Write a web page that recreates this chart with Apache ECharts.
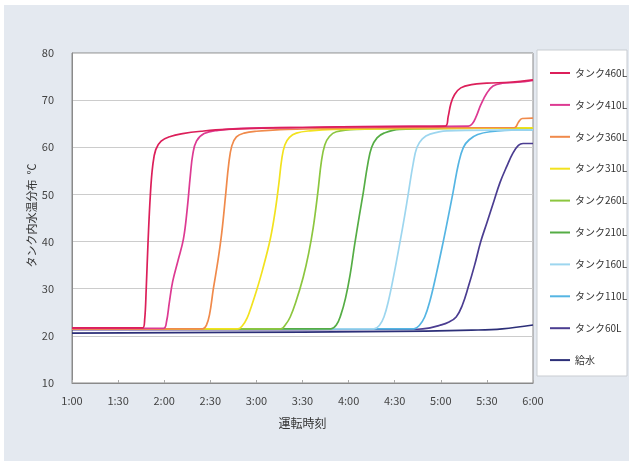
<!DOCTYPE html>
<html><head><meta charset="utf-8">
<script src="https://cdn.jsdelivr.net/npm/echarts@6/dist/echarts.min.js"></script>
<style>
html,body{margin:0;padding:0;background:#fff;}
#panel{position:absolute;left:4px;top:5px;width:625px;height:456px;background:#e4e9f0;}
#c{position:absolute;left:0;top:0;width:629px;height:461px;}
</style></head>
<body><div id="panel"></div><div id="c"></div>
<script>
// time in minutes after 1:00, value in °C
const names = ['タンク460L','タンク410L','タンク360L','タンク310L','タンク260L','タンク210L','タンク160L','タンク110L','タンク60L','給水'];
const tank460 = [[0,21.7],[46,21.7],[47.3,23.5],[48.3,30],[49.5,40],[51,50],[52.5,56],[54.5,59.5],[58,61.3],[64,62.3],[72,62.9],[84,63.4],[100,63.8],[150,64.2],[200,64.4],[243,64.5],[244.8,66.5],[246.5,69.2],[249,71.2],[253,72.6],[260,73.3],[270,73.6],[285,73.8],[300,74.3]];
const tank410 = [[0,21.6],[59.5,21.6],[61.5,23],[63.3,27],[65.5,31.5],[69,36],[72.5,40.5],[75,47],[77,54],[78.6,58.5],[81,61.3],[86,62.9],[95,63.6],[110,64],[150,64.2],[200,64.4],[258,64.5],[260.5,65],[263,66.5],[266,69],[270,71.5],[274,73],[280,73.6],[290,73.8],[300,74.2]];
const tank360 = [[0,21.5],[85,21.5],[87.5,22.3],[89.5,24.5],[92,30],[95,36],[97.5,42],[100,50],[102,56.5],[104,60.3],[107,62.2],[112,63],[120,63.4],[140,63.8],[200,64.1],[288,64.2],[290.5,65.3],[293,66.1],[300,66.2]];
const tank310 = [[0,21.5],[108,21.5],[111,22.2],[114,23.8],[117,26.5],[120,29.5],[124,34],[129,40.5],[132,46],[134.5,52],[136.5,57.5],[138.5,60.5],[141.5,62.1],[146,63],[155,63.5],[170,63.8],[300,64.1]];
const tank260 = [[0,21.5],[136,21.5],[139,22.4],[142,24],[145.5,27],[150.5,32.5],[154,37.5],[157,43],[160,50.5],[162.3,57],[164.5,60.5],[167.5,62.3],[172,63.3],[185,63.8],[300,64.1]];
const tank210 = [[0,21.5],[168.5,21.5],[172,22.3],[175,24.5],[178,28],[181,33],[184,39.5],[187,45.5],[189.6,50.5],[192.5,56.5],[195,60],[198.5,62],[203,63],[213,63.8],[300,64.1]];
const tank160 = [[0,21.5],[196.5,21.5],[200,22.2],[203,24],[206,27.5],[209.5,33],[213.5,40],[216.5,45.5],[219,50.5],[222,56.5],[224.5,60],[228,61.8],[233,62.8],[244,63.5],[300,63.7]];
const tank110 = [[0,21.5],[222.5,21.5],[226,22.2],[229.5,24],[233,27.5],[237,33],[241.6,40],[245,45.5],[248,50.5],[251.5,56.5],[254.7,60],[258.5,61.6],[264,62.7],[272,63.3],[290,63.7],[300,63.7]];
const tank60 = [[0,21.3],[225,21.4],[233,21.7],[239,22.2],[245,22.9],[250,24],[254,26.5],[258,30.5],[262,35],[266,40],[270,44],[274,48],[278.5,52.5],[283,56],[287,58.8],[290.5,60.4],[293.5,60.8],[300,60.8]];
const feed = [[0,20.6],[150,20.8],[230,21.0],[260,21.2],[280,21.5],[300,22.3]];
const seriesData = [tank460,tank410,tank360,tank310,tank260,tank210,tank160,tank110,tank60,feed];
const colors = ['#dc1f5a','#dd3a92','#f08a4b','#f2e21e','#8cc63f','#55ad45','#9dd6ef','#55b5e3','#4b3d91','#2c2f78'];
const xTicks = [0,30,60,90,120,150,180,210,240,270,300];
const xTickLabels = ['1:00','1:30','2:00','2:30','3:00','3:30','4:00','4:30','5:00','5:30','6:00'];

const chart = echarts.init(document.getElementById('c'), null, {renderer:'canvas'});
const font = "'Noto Sans CJK JP', 'DejaVu Sans', sans-serif";
chart.setOption({
  animation:false,
  textStyle:{fontFamily:font},
  graphic:[{type:'rect', z:1, shape:{x:537,y:50,width:90,height:326}, style:{fill:'#fff', stroke:'#c9cdd2', lineWidth:1}}],
  grid:{left:72, top:53, right:96, bottom:78, show:true, backgroundColor:'#fff', borderColor:'#8a8a8a', borderWidth:1},
  legend:{
    z:5, orient:'vertical', left:550, top:66, padding:0, itemWidth:20, itemHeight:2, itemGap:17.9, icon:'rect',
    data:names,
    textStyle:{fontSize:10, lineHeight:14, color:'#333', fontFamily:font}
  },
  xAxis:{
    type:'value', min:0, max:300, interval:30,
    name:'運転時刻', nameLocation:'middle', nameGap:34, nameMoveOverlap:false,
    nameTextStyle:{fontSize:12, color:'#333', fontFamily:font},
    axisLine:{show:true, lineStyle:{color:'#8a8a8a'}},
    axisTick:{show:true, inside:true, length:3, lineStyle:{color:'#aaa'}},
    splitLine:{show:false},
    axisLabel:{fontSize:11, color:'#444', margin:12, formatter:function(v){const i=xTicks.indexOf(v);return i>=0?xTickLabels[i]:'';}}
  },
  yAxis:{
    type:'value', min:10, max:80, interval:10,
    name:'タンク内水温分布  ℃', nameLocation:'middle', nameGap:35, nameRotate:90, nameMoveOverlap:false,
    nameTextStyle:{fontSize:11, color:'#333', fontFamily:font, padding:[0,0,0,5]},
    axisLine:{show:true, lineStyle:{color:'#8a8a8a'}},
    axisTick:{show:false},
    splitLine:{show:true, lineStyle:{color:'#cccccc', width:1}},
    axisLabel:{fontSize:11, color:'#444', margin:18}
  },
  series: names.map((n,i)=>({
    name:n, type:'line', data:seriesData[i], showSymbol:false, symbol:'none',
    smooth:0.4, color:colors[i],
    lineStyle:{width:1.7, color:colors[i]}, z:10-i
  }))
});
</script></body></html>
